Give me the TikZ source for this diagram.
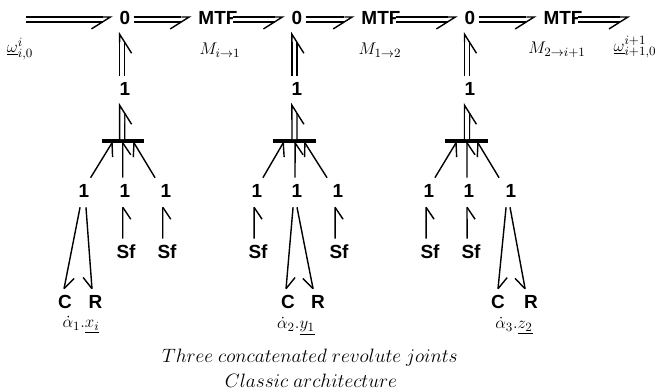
\documentclass[tikz,border=0pt]{standalone}
\usepackage{fontspec}
\setmainfont{Liberation Sans}
\usetikzlibrary{decorations.markings}

\begin{document}
\begin{tikzpicture}[x=0.025cm,y=-0.025cm,
  elem/.style={font=\fontsize{13.5}{15}\selectfont\bfseries,inner xsep=6.4pt,inner ysep=4.6pt,text height=9.6pt,text depth=1.8pt},
  junction/.style={fill=black,inner sep=0pt,minimum width=30.5pt,minimum height=2.2pt},
  lbl/.style={font=\fontsize{12.5}{14}\selectfont,inner sep=0pt},
  caption/.style={font=\fontsize{13.3}{15}\selectfont,inner sep=0pt,scale=0.955,transform shape},
  powerbond/.style={line width=1pt,double,double distance=2.6pt,shorten >=5.6pt,postaction={decorate},
    decoration={markings,mark=at position 1 with {\draw[line width=1pt,double=none,shorten >=0pt] (-5.6pt,1.8pt) -- (0pt,1.8pt) -- (-13.5pt,-6.7pt);}}},
  bondr/.style={line width=1pt,postaction={decorate},
    decoration={markings,mark=at position 1 with {\draw[line width=1pt] (0pt,0pt) -- (-8.5pt,-5.7pt);}}},
  bondl/.style={line width=1pt,postaction={decorate},
    decoration={markings,mark=at position 1 with {\draw[line width=1pt] (0pt,0pt) -- (-8.5pt,5.7pt);}}}]

\useasboundingbox (0,0) rectangle (659,392);

% Top row
\coordinate (inflow) at (26,19.5);
\coordinate (outflow) at (628,19.5);
\node[elem] (zeroA) at (125,19.5) {0};
\node[elem] (mtfA) at (218,19.5) {MTF};
\node[elem] (zeroB) at (297,19.5) {0};
\node[elem] (mtfB) at (381,19.5) {MTF};
\node[elem] (zeroC) at (470,19.5) {0};
\node[elem] (mtfC) at (563,19.5) {MTF};

\draw[powerbond] (inflow) -- (zeroA.west);
\draw[powerbond] ([xshift=-4.2pt]zeroA.east) -- (mtfA.west);
\draw[powerbond] ([xshift=-10pt]mtfA.east) -- (zeroB.west);
\draw[powerbond] ([xshift=-4.2pt]zeroB.east) -- (mtfB.west);
\draw[powerbond] ([xshift=-10pt]mtfB.east) -- (zeroC.west);
\draw[powerbond] ([xshift=-4.2pt]zeroC.east) -- (mtfC.west);
\draw[powerbond] ([xshift=-10pt]mtfC.east) -- (outflow);

% Top labels
\node[lbl] (omegaIn) at (20,49) {$\underline{\omega}_{i,0}^{i}$};
\node[lbl] (modA) at (220,50) {$M_{i\to 1}$};
\node[lbl] (modB) at (380,50) {$M_{1\to 2}$};
\node[lbl] (modC) at (557,50) {$M_{2\to i+1}$};
\node[lbl] (omegaOut) at (635,47) {$\underline{\omega}_{i+1,0}^{i+1}$};

% First joint
\node[elem] (oneA) at (125,90.5) {1};
\node[junction] (barA) at (123,141) {};
\node[elem] (oneAa) at (84,192.5) {1};
\node[elem] (oneAb) at (125,192.5) {1};
\node[elem] (oneAc) at (166,192.5) {1};
\node[elem] (sfAb) at (126,253.5) {Sf};
\node[elem] (sfAc) at (167,253.5) {Sf};
\node[elem] (cA) at (65,303.5) {C};
\node[elem] (rA) at (95.5,303.5) {R};

\draw[powerbond] ([xshift=-2pt]oneA.north) -- ([xshift=-2pt]zeroA.south);
\draw[powerbond] ([xshift=-0.6pt]barA.north) -- ([xshift=-2pt]oneA.south);
\draw[bondr] ([xshift=4.7pt]oneAa.north) -- ([xshift=-7.8pt]barA.south);
\draw[bondr] ([xshift=-1.6pt]oneAb.north) -- ([xshift=-0.2pt]barA.south);
\draw[bondl] ([xshift=-7.8pt]oneAc.north) -- ([xshift=7.8pt]barA.south);
\draw[bondr] ([xshift=-2.3pt]sfAb.north) -- ([xshift=-1.6pt]oneAb.south);
\draw[bondr] ([xshift=-3pt]sfAc.north) -- ([xshift=-2.3pt]oneAc.south);
\draw[bondl] ([xshift=-2.8pt]oneAa.south) -- ([xshift=-0.7pt]cA.north);
\draw[bondr] ([xshift=1.4pt]oneAa.south) -- ([xshift=-2.5pt]rA.north);
\node[lbl] (axisA) at (81,325) {$\dot{\alpha}_1.\underline{x_i}$};

% Second joint
\node[elem] (oneB) at (297,90.5) {1};
\node[junction] (barB) at (294.5,141) {};
\node[elem] (oneBa) at (257,192.5) {1};
\node[elem] (oneBb) at (297,192.5) {1};
\node[elem] (oneBc) at (338,192.5) {1};
\node[elem] (sfBa) at (258,253.5) {Sf};
\node[elem] (sfBc) at (339,253.5) {Sf};
\node[elem] (cB) at (288,303.5) {C};
\node[elem] (rB) at (318,303.5) {R};

\draw[powerbond] ([xshift=-1.8pt]oneB.north) -- ([xshift=-1.8pt]zeroB.south);
\draw[powerbond] (barB.north) -- ([xshift=-1.8pt]oneB.south);
\draw[bondr] ([xshift=4.2pt]oneBa.north) -- ([xshift=-8pt]barB.south);
\draw[bondr] ([xshift=-1.4pt]oneBb.north) -- ([xshift=0.4pt]barB.south);
\draw[bondl] ([xshift=-7.8pt]oneBc.north) -- ([xshift=7.4pt]barB.south);
\draw[bondr] ([xshift=-2.8pt]sfBa.north) -- ([xshift=-2.1pt]oneBa.south);
\draw[bondr] ([xshift=-2.8pt]sfBc.north) -- ([xshift=-2.1pt]oneBc.south);
\draw[bondl] ([xshift=-2.8pt]oneBb.south) -- ([xshift=-1.4pt]cB.north);
\draw[bondr] (oneBb.south) -- ([xshift=-3.5pt]rB.north);
\node[lbl] (axisB) at (296,326) {$\dot{\alpha}_2.\underline{y_1}$};

% Third joint
\node[elem] (oneC) at (470,90.5) {1};
\node[junction] (barC) at (466.7,141) {};
\node[elem] (oneCa) at (429,192.5) {1};
\node[elem] (oneCb) at (469,192.5) {1};
\node[elem] (oneCc) at (511,192.5) {1};
\node[elem] (sfCa) at (430,253.5) {Sf};
\node[elem] (sfCb) at (471,253.5) {Sf};
\node[elem] (cC) at (498,303.5) {C};
\node[elem] (rC) at (531,303.5) {R};

\draw[powerbond] ([xshift=-2.1pt]oneC.north) -- ([xshift=-2.1pt]zeroC.south);
\draw[powerbond] ([xshift=0.2pt]barC.north) -- ([xshift=-2.1pt]oneC.south);
\draw[bondr] ([xshift=4.2pt]oneCa.north) -- ([xshift=-7.6pt]barC.south);
\draw[bondr] ([xshift=-1.4pt]oneCb.north) -- ([xshift=0.2pt]barC.south);
\draw[bondl] ([xshift=-8.5pt]oneCc.north) -- ([xshift=8pt]barC.south);
\draw[bondr] ([xshift=-2.8pt]sfCa.north) -- ([xshift=-2.1pt]oneCa.south);
\draw[bondr] ([xshift=-2.8pt]sfCb.north) -- ([xshift=-1.4pt]oneCb.south);
\draw[bondl] ([xshift=-3.5pt]oneCc.south) -- (cC.north);
\draw[bondr] ([xshift=-0.7pt]oneCc.south) -- ([xshift=-4.2pt]rC.north);
\node[lbl] (axisC) at (514,326) {$\dot{\alpha}_3.\underline{z_2}$};

% Caption
\node[caption] (captionA) at (310,358) {$Three\ concatenated\ revolute\ joints$};
\node[caption] (captionB) at (311,381) {$Classic\ architecture$};

\end{tikzpicture}
\end{document}
